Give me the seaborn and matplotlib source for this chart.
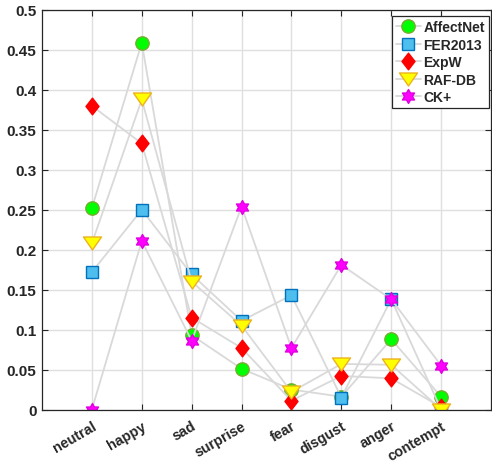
import numpy as np
import pandas as pd
import seaborn as sns
import matplotlib
matplotlib.use("Agg")
import matplotlib.pyplot as plt
from matplotlib.path import Path

emotions = ["neutral", "happy", "sad", "surprise", "fear", "disgust", "anger", "contempt"]
affectnet = [0.252, 0.459, 0.093, 0.051, 0.025, 0.016, 0.088, 0.016]
fer2013 = [0.172, 0.250, 0.169, 0.111, 0.143, 0.015, 0.138, 0.000]
expw = [0.380, 0.333, 0.115, 0.077, 0.011, 0.042, 0.039, 0.003]
rafdb = [0.208, 0.388, 0.160, 0.105, 0.022, 0.057, 0.056, 0.000]
ckplus = [0.000, 0.211, 0.086, 0.254, 0.077, 0.181, 0.138, 0.055]
datasets = ["AffectNet", "FER2013", "ExpW", "RAF-DB", "CK+"]
yticks = [0, 0.05, 0.1, 0.15, 0.2, 0.25, 0.3, 0.35, 0.4, 0.45, 0.5]
ytick_labels = ["0", "0.05", "0.1", "0.15", "0.2", "0.25", "0.3", "0.35", "0.4", "0.45", "0.5"]

values = [affectnet, fer2013, expw, rafdb, ckplus]
df = pd.DataFrame({
    "emotion": emotions * len(datasets),
    "value": sum(values, []),
    "dataset": [d for d in datasets for _ in emotions],
})

sns.set_theme(style="white")
plt.rcParams["font.family"] = ["Liberation Sans", "DejaVu Sans"]
plt.rcParams["font.weight"] = "bold"

diamond = Path([(0, 1), (0.78, 0), (0, -1), (-0.78, 0), (0, 1)], closed=True)
tri_down = Path([(-1, 0.72), (1, 0.72), (0, -0.72), (-1, 0.72)], closed=True)
hexagram = Path.unit_regular_star(6, innerCircle=0.577)

styles = {
    "AffectNet": dict(marker="o", markersize=9.6, markerfacecolor="#00ff00", markeredgecolor="#77ac30"),
    "FER2013": dict(marker="s", markersize=8.6, markerfacecolor="#4dbeee", markeredgecolor="#0072bd"),
    "ExpW": dict(marker=diamond, markersize=12, markerfacecolor="#ff0000", markeredgecolor="#ff0000"),
    "RAF-DB": dict(marker=tri_down, markersize=13, markerfacecolor="#ffff00", markeredgecolor="#edb120"),
    "CK+": dict(marker=hexagram, markersize=10, markerfacecolor="#ff00ff", markeredgecolor="#e000e0"),
}

fig = plt.figure(figsize=(4.92, 4.64), dpi=100)
ax = fig.add_axes([42 / 492, (464 - 410.5) / 464, 449 / 492, 399.5 / 464])

for d in datasets:
    sub = df[df["dataset"] == d]
    sns.lineplot(data=sub, x="emotion", y="value", ax=ax, sort=False, estimator=None,
                 color="#d9d9d9", linewidth=1.3, label=d, markeredgewidth=1.0, **styles[d])

ax.set_xlim(-1, 8)
ax.set_ylim(0, 0.5)
ax.set_xticks(range(len(emotions)))
ax.set_xticklabels(emotions, rotation=30, ha="right", va="top", rotation_mode="anchor",
                   fontsize=10.3, fontweight="bold", color="#262626")
ax.set_yticks(yticks)
ax.set_yticklabels(ytick_labels, fontsize=11, fontweight="bold", color="#262626")
ax.set_xlabel("")
ax.set_ylabel("")
ax.grid(True, color="#dfdfdf", linewidth=1.0)
ax.set_axisbelow(True)
ax.tick_params(axis="both", direction="in", length=4, width=0.8, color="#262626", top=True, right=True,
               bottom=True, left=True)
ax.tick_params(axis="x", pad=6.5)
ax.tick_params(axis="y", pad=4)
for s in ax.spines.values():
    s.set_color("#262626")
    s.set_linewidth(0.9)
    s.set_visible(True)

leg = ax.legend(loc="upper right", bbox_to_anchor=(1 - 2 / 449, 1 - 6 / 399.5), frameon=True,
                fancybox=False, framealpha=1, edgecolor="#262626", borderaxespad=0,
                handlelength=1.75, handletextpad=0.2, labelspacing=0.25, borderpad=0.3,
                prop={"weight": "bold", "size": 10})
leg.get_frame().set_linewidth(0.9)

fig.savefig("out.png", dpi=100)
